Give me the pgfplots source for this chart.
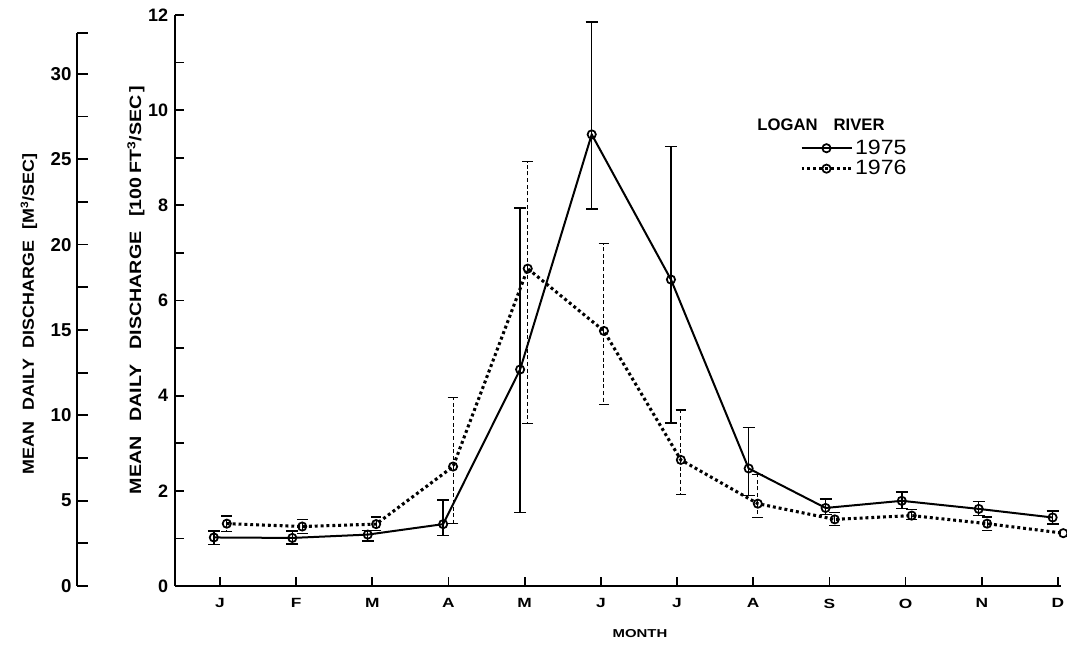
\documentclass[border=0pt]{standalone}
\usepackage{fontspec}
\setmainfont{Liberation Sans}
\newfontfamily\widefont{Liberation Sans}[FakeStretch=1.3]
\newfontfamily\midfont{Liberation Sans}[FakeStretch=1.12]
\newfontfamily\inlabfont{Liberation Sans}[FakeStretch=1.2]
\usepackage{pgfplots}
\pgfplotsset{compat=1.18}
\begin{document}
\begin{tikzpicture}
\useasboundingbox (0,0) rectangle (800.25pt,483.75pt);
% outer axis in m^3/s
\begin{axis}[
  at={(57.75pt,44.25pt)}, anchor=south west,
  scale only axis, width=1pt, height=414.75pt,
  xmin=0, xmax=1, ymin=0, ymax=32.4,
  axis x line=none, axis y line*=left,
  axis line style={line width=1.6pt,-},
  ytick={0,5,...,30}, minor ytick={2.5,7.5,...,27.5},
  extra y ticks={32.4}, extra y tick labels={},
  ytick pos=left, tick align=inside, ytick align=inside,
  major tick length=8.25pt, minor tick length=8.25pt,
  tick style={line width=1.3pt,black},
  /pgf/number format/assume math mode=true,
  yticklabel style={font=\bfseries\fontsize{14}{14}\selectfont, inner sep=0pt, xshift=-4pt},
]
\addplot[draw=none] coordinates {(0,0)};
\end{axis}
% main axis in 100 ft^3/s
\begin{axis}[
  at={(131.25pt,44.25pt)}, anchor=south west,
  scale only axis, width=664.5pt, height=428.25pt,
  xmin=-0.59, xmax=11.04, ymin=0, ymax=12,
  axis x line*=bottom, axis y line*=left,
  axis line style={line width=1.6pt,-},
  xtick={0,...,11}, xticklabels={J,F,M,A,M,J,J,A,S,O,N,D},
  ytick={0,2,...,12}, minor ytick={1,3,...,11},
  tick align=inside, xtick align=inside, ytick align=inside,
  major tick length=6.75pt, minor tick length=6.75pt,
  tick style={line width=1.3pt,black},
  clip=false,
  /pgf/number format/assume math mode=true,
  yticklabel style={font=\bfseries\fontsize{13.5}{14}\selectfont, inner sep=0pt, xshift=-5pt},
  xticklabel style={font=\widefont\bfseries\fontsize{10}{10}\selectfont, yshift=-6pt},
  legend image code/.code={\draw[mark repeat=2,mark phase=2,#1] plot coordinates {(0pt,0pt) (18.75pt,0pt) (37.5pt,0pt)};},
  legend style={draw=none, fill=none, inner sep=0pt, row sep=0pt,
    font=\midfont\fontsize{15.5}{15}\selectfont, at={(axis cs:7.61,9.42)}, anchor=north west,
    nodes={inner sep=1.5pt}},
  legend cell align=left,
]
% error bars 1975
\addplot[draw=none, mark=none, forget plot,
  error bars/.cd, y dir=both, y explicit,
  error bar style={line width=1.1pt, solid, black},
  error mark options={rotate=90, line width=1.1pt, mark size=4.5pt, solid, black}]
coordinates {
(-0.08,1.02) += (0,0.14) -= (0,0.15)
(0.95,1.01) += (0,0.15) -= (0,0.13)
(1.94,1.08) += (0,0.09) -= (0,0.13)
(2.93,1.30) += (0,0.51) -= (0,0.24)
(3.94,4.55) += (0,3.39) -= (0,3.00)
(4.88,9.49) += (0,2.36) -= (0,1.57)
(5.92,6.44) += (0,2.80) -= (0,3.01)
(6.94,2.47) += (0,0.86) -= (0,0.57)
(7.95,1.64) += (0,0.19) -= (0,0.14)
(8.95,1.79) += (0,0.19) -= (0,0.16)
(9.96,1.62) += (0,0.16) -= (0,0.14)
(10.93,1.44) += (0,0.14) -= (0,0.14)
};
% error bars 1976
\addplot[draw=none, mark=none, forget plot,
  error bars/.cd, y dir=both, y explicit,
  error bar style={line width=0.7pt, dash pattern=on 3pt off 2pt, black},
  error mark options={rotate=90, line width=0.9pt, mark size=4pt, solid, black}]
coordinates {
(0.09,1.31) += (0,0.16) -= (0,0.16)
(1.08,1.25) += (0,0.14) -= (0,0.14)
(2.05,1.30) += (0,0.15) -= (0,0.13)
(3.06,2.51) += (0,1.45) -= (0,1.19)
(4.04,6.67) += (0,2.25) -= (0,3.26)
(5.04,5.36) += (0,1.83) -= (0,1.55)
(6.05,2.65) += (0,1.05) -= (0,0.73)
(7.06,1.73) += (0,0.61) -= (0,0.29)
(8.07,1.40) += (0,0.15) -= (0,0.13)
(9.08,1.48) += (0,0.13) -= (0,0.09)
(10.07,1.31) += (0,0.14) -= (0,0.14)
};
% 1975
\addplot[black, line width=1.5pt, mark=o, mark size=3.1pt,
  mark options={solid, fill=white, line width=1.3pt}]
coordinates {
(-0.08,1.02) (0.95,1.01) (1.94,1.08) (2.93,1.30) (3.94,4.55) (4.88,9.49)
(5.92,6.44) (6.94,2.47) (7.95,1.64) (8.95,1.79) (9.96,1.62) (10.93,1.44)
};
\addlegendentry{1975}
% 1976
\addplot[black, line width=2.3pt, dash pattern=on 2.2pt off 2.2pt, mark=o, mark size=3.1pt,
  mark options={solid, fill=white, line width=1.3pt}]
coordinates {
(0.09,1.31) (1.08,1.25) (2.05,1.30) (3.06,2.51) (4.04,6.67) (5.04,5.36)
(6.05,2.65) (7.06,1.73) (8.07,1.40) (9.08,1.48) (10.07,1.31) (11.07,1.11)
};
\addlegendentry{1976}
\end{axis}
\node[font=\bfseries\fontsize{12.5}{12}\selectfont] at (615.75pt,390pt) {LOGAN\hspace{12pt}RIVER};
\node[font=\widefont\bfseries\fontsize{8.6}{9}\selectfont] at (480pt,8.25pt) {MONTH};
\node[rotate=90, font=\midfont\bfseries\fontsize{12}{12}\selectfont] at (21.75pt,248.25pt)
  {MEAN\hspace{8pt}DAILY\hspace{8pt}DISCHARGE\hspace{8pt}[M\textsuperscript{3}/SEC]};
\node[rotate=90, font=\inlabfont\bfseries\fontsize{12.3}{12}\selectfont] at (102pt,266.25pt)
  {MEAN\hspace{11pt}DAILY\hspace{11pt}DISCHARGE\hspace{11pt}[100\hspace{3pt}FT\textsuperscript{3}/SEC\hspace{2pt}]};
\end{tikzpicture}
\end{document}
